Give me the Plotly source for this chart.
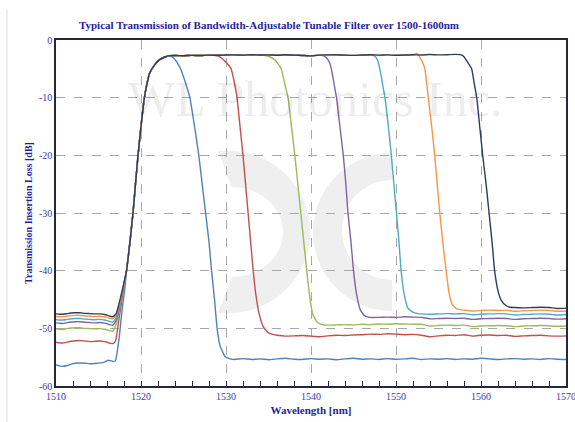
import numpy as np
import plotly.graph_objects as go

# ---------------- data ----------------
LEFT_X = [1510.0, 1510.4, 1510.8, 1511.3, 1511.8, 1512.3, 1512.8, 1513.4,
          1514.0, 1514.6, 1515.2, 1515.7, 1516.1, 1516.4, 1516.7]

# common rising edge (all curves overlap here)
RISE_X = [1518.3, 1518.7, 1519.06, 1519.35, 1519.65, 1520.0, 1520.4, 1520.7,
          1521.0, 1521.6, 1522.2, 1522.8, 1523.2]
RISE_Y = [-40, -35, -30, -25, -20, -15, -10, -7.6, -5.8, -4.3, -3.4, -2.95, -2.75]

# common flat pass-band top
TOP_X = list(range(1524, 1558))
TOP_Y = [-2.7, -2.72, -2.66, -2.7, -2.62, -2.65, -2.6, -2.58, -2.62, -2.55,
         -2.6, -2.58, -2.64, -2.57, -2.62, -2.68, -2.75, -2.62, -2.58, -2.55,
         -2.62, -2.66, -2.6, -2.55, -2.62, -2.58, -2.65, -2.6, -2.55, -2.6,
         -2.52, -2.58, -2.55, -2.5]

# --- blue ---
BLUE_LEFT_Y = [-56.35, -56.5, -56.6, -56.45, -56.2, -56.05, -56.0, -56.05,
               -56.15, -56.1, -56.0, -55.85, -55.55, -55.6, -55.75]
BLUE_JOIN_X = [1517.0, 1517.4, 1517.8, 1518.1]
BLUE_JOIN_Y = [-55.6, -52.0, -46.5, -43.0]
BLUE_TOP_END = 1523.5
BLUE_FALL_X = [1523.6, 1524.0, 1524.3, 1524.65, 1525.25, 1525.75, 1526.3, 1526.8,
               1527.2, 1527.6, 1528.0, 1528.3, 1528.65, 1528.95, 1529.3, 1529.85, 1530.5]
BLUE_FALL_Y = [-2.9, -3.4, -4.0, -5.0, -7.5, -10, -15, -20, -25, -30, -35, -40,
               -45, -50, -53, -54.8, -55.3]
BLUE_RIGHT_START = 1531
BLUE_RIGHT_Y = [-55.4, -55.25, -55.4, -55.3, -55.45, -55.3, -55.2, -55.35, -55.4,
                -55.25, -55.35, -55.3, -55.45, -55.3, -55.2, -55.35, -55.3, -55.4,
                -55.25, -55.35, -55.3, -55.2, -55.4, -55.3, -55.35, -55.25, -55.4,
                -55.3, -55.35, -55.2, -55.3, -55.4, -55.3, -55.25, -55.35, -55.3,
                -55.4, -55.25, -55.35, -55.4]

# --- red ---
RED_LEFT_Y = [-52.4, -52.5, -52.55, -52.4, -52.25, -52.15, -52.1, -52.2, -52.3,
              -52.25, -52.2, -52.3, -52.45, -52.6, -52.65]
RED_JOIN_X = [1517.0, 1517.4, 1517.8]
RED_JOIN_Y = [-52.2, -48.5, -44.5]
RED_TOP_END = 1528.5
RED_FALL_X = [1528.6, 1529.1, 1529.6, 1530.1, 1530.6, 1531.0, 1531.3, 1531.65,
              1532.0, 1532.3, 1532.6, 1532.9, 1533.2, 1533.5, 1533.9, 1534.4,
              1535.0, 1535.6]
RED_FALL_Y = [-2.65, -2.8, -3.3, -4.0, -5.0, -7.5, -10, -15, -20, -25, -30, -35,
              -40, -44, -47.5, -49.8, -50.8, -51.1]
RED_RIGHT_START = 1536
RED_RIGHT_Y = [-51.2, -51.35, -51.3, -51.25, -51.35, -51.45, -51.3, -51.2, -51.25,
               -51.15, -51.1, -51.0, -51.05, -50.95, -51.0, -51.1, -51.05, -51.2,
               -51.45, -51.3, -51.2, -51.25, -51.1, -51.35, -51.2, -51.15, -51.25,
               -51.2, -51.4, -51.3, -51.25, -51.2, -51.3, -51.35, -51.3]

# --- green ---
GREEN_LEFT_Y = [-50.1, -50.15, -50.2, -50.05, -49.95, -49.9, -49.9, -50.0, -50.05,
                -50.1, -50.05, -50.15, -50.3, -50.45, -50.5]
GREEN_JOIN_X = [1517.0, 1517.4, 1517.75]
GREEN_JOIN_Y = [-49.6, -47.3, -44.2]
GREEN_TOP_END = 1534.5
GREEN_FALL_X = [1534.6, 1535.2, 1535.8, 1536.2, 1536.5, 1536.9, 1537.3, 1537.7,
                1538.1, 1538.45, 1538.8, 1539.15, 1539.5, 1539.8, 1540.2, 1540.7,
                1541.3]
GREEN_FALL_Y = [-2.7, -2.95, -3.5, -4.3, -5.0, -7.5, -10, -15, -20, -25, -30, -35,
                -40, -44, -47.5, -48.9, -49.35]
GREEN_RIGHT_START = 1542
GREEN_RIGHT_Y = [-49.45, -49.4, -49.35, -49.4, -49.3, -49.35, -49.25, -49.3, -49.2,
                 -49.25, -49.3, -49.3, -49.6, -49.5, -49.45, -49.5, -49.45, -49.7,
                 -49.6, -49.55, -49.5, -49.55, -49.7, -49.6, -49.55, -49.5, -49.55,
                 -49.65, -49.6]

# --- purple ---
PURPLE_LEFT_Y = [-49.05, -49.1, -49.15, -49.0, -48.9, -48.85, -48.85, -48.95,
                 -49.0, -49.05, -49.0, -49.1, -49.25, -49.4, -49.45]
PURPLE_JOIN_X = [1517.05, 1517.4, 1517.75]
PURPLE_JOIN_Y = [-48.7, -46.8, -44.1]
PURPLE_TOP_END = 1541.4
PURPLE_FALL_X = [1541.5, 1541.9, 1542.2, 1542.4, 1542.7, 1543.0, 1543.4, 1543.8,
                 1544.1, 1544.35, 1544.7, 1545.0, 1545.35, 1545.8, 1546.3, 1546.9]
PURPLE_FALL_Y = [-2.75, -3.2, -4.0, -5.0, -7.5, -10, -15, -20, -25, -30, -35, -40,
                 -44, -46.8, -47.8, -48.1]
PURPLE_RIGHT_START = 1548
PURPLE_RIGHT_Y = [-48.1, -48.05, -48.1, -48.0, -48.05, -48.1, -48.35, -48.3, -48.25,
                  -48.3, -48.25, -48.45, -48.35, -48.3, -48.25, -48.3, -48.45, -48.35,
                  -48.3, -48.25, -48.3, -48.4, -48.35]

# --- cyan ---
CYAN_LEFT_Y = [-48.5, -48.55, -48.55, -48.45, -48.35, -48.3, -48.3, -48.4, -48.45,
               -48.5, -48.45, -48.55, -48.7, -48.85, -48.9]
CYAN_JOIN_X = [1517.05, 1517.4, 1517.75]
CYAN_JOIN_Y = [-48.2, -46.4, -44.0]
CYAN_TOP_END = 1547.4
CYAN_FALL_X = [1547.5, 1547.8, 1548.1, 1548.4, 1548.7, 1549.1, 1549.45, 1549.75,
               1550.05, 1550.35, 1550.6, 1550.95, 1551.4, 1552.0, 1552.6]
CYAN_FALL_Y = [-2.8, -3.4, -5.0, -7.5, -10, -15, -20, -25, -30, -35, -40, -44,
               -46.5, -47.2, -47.45]
CYAN_RIGHT_START = 1553
CYAN_RIGHT_Y = [-47.5, -47.55, -47.5, -47.45, -47.5, -47.45, -47.65, -47.55, -47.5,
                -47.45, -47.5, -47.7, -47.6, -47.55, -47.5, -47.55, -47.7, -47.6]

# --- orange ---
ORANGE_LEFT_Y = [-47.95, -48.0, -48.0, -47.9, -47.8, -47.75, -47.75, -47.85, -47.9,
                 -47.95, -47.9, -48.0, -48.15, -48.3, -48.35]
ORANGE_JOIN_X = [1517.05, 1517.4, 1517.75]
ORANGE_JOIN_Y = [-47.7, -46.1, -44.0]
ORANGE_TOP_END = 1552.4
ORANGE_FALL_X = [1552.5, 1552.8, 1553.1, 1553.4, 1553.6, 1553.8, 1554.2, 1554.55,
                 1554.85, 1555.15, 1555.5, 1555.9, 1556.2, 1556.6, 1557.1, 1557.7]
ORANGE_FALL_Y = [-2.35, -3.0, -3.8, -5.0, -7.5, -10, -15, -20, -25, -30, -35, -40,
                 -43.5, -45.8, -46.6, -46.8]
ORANGE_RIGHT_START = 1558
ORANGE_RIGHT_Y = [-46.85, -47.0, -46.9, -46.85, -46.9, -46.85, -47.05, -46.95,
                  -46.9, -46.85, -46.9, -47.05, -47.0]

# --- dark navy ---
DARK_LEFT_Y = [-47.5, -47.55, -47.55, -47.45, -47.35, -47.3, -47.3, -47.4, -47.45,
               -47.5, -47.5, -47.6, -47.75, -47.9, -48.0]
DARK_JOIN_X = [1517.1, 1517.4, 1517.7]
DARK_JOIN_Y = [-47.4, -45.8, -44.0]
DARK_TOP_END = 1557.5
DARK_FALL_X = [1557.6, 1558.0, 1558.4, 1558.9, 1559.2, 1559.5, 1559.85, 1560.2,
               1560.6, 1560.95, 1561.3, 1561.6, 1562.0, 1562.4, 1562.9, 1563.4]
DARK_FALL_Y = [-2.55, -2.9, -3.8, -5.0, -7.5, -10, -15, -20, -25, -30, -35, -40,
               -43.5, -45.2, -46.0, -46.35]
DARK_RIGHT_START = 1564
DARK_RIGHT_Y = [-46.4, -46.45, -46.4, -46.35, -46.4, -46.55, -46.5]

COLORS = ["#4F81BD", "#C0504D", "#9BBB59", "#8064A2", "#4BACC6", "#F79646", "#2C3E5C"]

X_TICKS = [1510, 1520, 1530, 1540, 1550, 1560, 1570]
Y_TICKS = [0, -10, -20, -30, -40, -50, -60]

TITLE = "Typical Transmission of Bandwidth-Adjustable Tunable Filter over 1500-1600nm"
X_TITLE = "Wavelength [nm]"
Y_TITLE = "Transmission Insertion Loss [dB]"
WATERMARK = "WL Photonics Inc."

# ---------------- assemble curves ----------------
curves = [
    (BLUE_LEFT_Y, BLUE_JOIN_X, BLUE_JOIN_Y, BLUE_TOP_END, BLUE_FALL_X, BLUE_FALL_Y, BLUE_RIGHT_START, BLUE_RIGHT_Y),
    (RED_LEFT_Y, RED_JOIN_X, RED_JOIN_Y, RED_TOP_END, RED_FALL_X, RED_FALL_Y, RED_RIGHT_START, RED_RIGHT_Y),
    (GREEN_LEFT_Y, GREEN_JOIN_X, GREEN_JOIN_Y, GREEN_TOP_END, GREEN_FALL_X, GREEN_FALL_Y, GREEN_RIGHT_START, GREEN_RIGHT_Y),
    (PURPLE_LEFT_Y, PURPLE_JOIN_X, PURPLE_JOIN_Y, PURPLE_TOP_END, PURPLE_FALL_X, PURPLE_FALL_Y, PURPLE_RIGHT_START, PURPLE_RIGHT_Y),
    (CYAN_LEFT_Y, CYAN_JOIN_X, CYAN_JOIN_Y, CYAN_TOP_END, CYAN_FALL_X, CYAN_FALL_Y, CYAN_RIGHT_START, CYAN_RIGHT_Y),
    (ORANGE_LEFT_Y, ORANGE_JOIN_X, ORANGE_JOIN_Y, ORANGE_TOP_END, ORANGE_FALL_X, ORANGE_FALL_Y, ORANGE_RIGHT_START, ORANGE_RIGHT_Y),
    (DARK_LEFT_Y, DARK_JOIN_X, DARK_JOIN_Y, DARK_TOP_END, DARK_FALL_X, DARK_FALL_Y, DARK_RIGHT_START, DARK_RIGHT_Y),
]

fig = go.Figure()
for (ly, jx, jy, top_end, fx, fy, rstart, ry), col in zip(curves, COLORS):
    top_pts = [(x, y) for x, y in zip(TOP_X, TOP_Y) if x < top_end]
    rx = list(range(rstart, rstart + len(ry)))
    xs = LEFT_X + jx + RISE_X + [p[0] for p in top_pts] + fx + rx
    ys = ly + jy + RISE_Y + [p[1] for p in top_pts] + fy + ry
    fig.add_trace(go.Scatter(x=xs, y=ys, mode="lines",
                             line=dict(color=col, width=1.4, shape="spline", smoothing=0.4),
                             hoverinfo="skip", showlegend=False))

# ---------------- layout geometry ----------------
W, H = 575, 422
ML, MR, MT, MB = 56, 9, 40, 36
PW, PH = W - ML - MR, H - MT - MB


def px2paper(px, py):
    return (px - ML) / PW, 1 - (py - MT) / PH


def path_from(points):
    s = ""
    for i, (px, py) in enumerate(points):
        x, y = px2paper(px, py)
        s += ("M" if i == 0 else "L") + f"{x:.4f},{y:.4f}"
    return s + "Z"


def arc(cx, cy, rx, ry, a0, a1, n=40):
    t = np.linspace(np.radians(a0), np.radians(a1), n)
    return [(cx + rx * np.cos(a), cy + ry * np.sin(a)) for a in t]


# watermark logo "D" and "C" (light gray decoration)
d_outer = [(218, 151)] + arc(229, 232, 81, 81, -90, 90) + [(218, 313)]
d_inner = [(232, 277)] + arc(232, 232, 51, 45, 90, -90) + [(232, 187)]
c_shape = arc(392, 232, 79, 79, -90, -270) + arc(392, 230, 50, 50, -270, -90)
shapes = [
    dict(type="path", xref="paper", yref="paper", path=path_from(d_outer + d_inner),
         fillcolor="#efefef", line=dict(width=0), layer="below"),
    dict(type="path", xref="paper", yref="paper", path=path_from(c_shape),
         fillcolor="#efefef", line=dict(width=0), layer="below"),
]
x0, _ = px2paper(7, 0)
_, y_top = px2paper(0, 10)
_, y_bot = px2paper(0, 422)
shapes.append(dict(type="line", xref="paper", yref="paper", x0=x0, x1=x0,
                   y0=y_bot, y1=y_top, line=dict(color="#dddddd", width=1)))

SERIF = "Liberation Serif, Times New Roman, serif"
BLUE_TXT = "#1f1f9c"
TICK_TXT = "#3b3ba6"
AXIS_COL = "#262640"

tx, _ = px2paper(269, 0)
wx, wy = px2paper(315, 99)

fig.update_layout(
    width=W, height=H,
    margin=dict(l=ML, r=MR, t=MT, b=MB, pad=0),
    paper_bgcolor="white", plot_bgcolor="white",
    showlegend=False,
    shapes=shapes,
    title=dict(text=f"<b>{TITLE}</b>", x=tx, xref="paper", xanchor="center",
               y=1 - 25 / H, yref="container", yanchor="middle",
               font=dict(family=SERIF, size=11, color=BLUE_TXT)),
    annotations=[
        dict(text=WATERMARK, x=wx, y=wy, xref="paper", yref="paper",
             xanchor="center", yanchor="middle",
             showarrow=False, font=dict(family=SERIF, size=50, color="rgba(0,0,0,0.07)")),
    ],
    xaxis=dict(range=[1510, 1570], tickvals=X_TICKS, ticktext=[str(v) for v in X_TICKS],
               automargin=False, ticklabeloverflow="allow",
               ticks="inside", ticklen=5, tickcolor=AXIS_COL,
               minor=dict(ticks="inside", dtick=2, ticklen=5, tickcolor=AXIS_COL, showgrid=False),
               showgrid=True, gridcolor="#a8a8a8", griddash="dash", gridwidth=1,
               showline=True, linecolor=AXIS_COL, linewidth=1.5, mirror=True,
               zeroline=False,
               tickfont=dict(family=SERIF, size=10, color=TICK_TXT),
               title=dict(text=f"<b>{X_TITLE}</b>", standoff=6,
                          font=dict(family=SERIF, size=11, color=BLUE_TXT))),
    yaxis=dict(range=[-60, 0], tickvals=Y_TICKS, ticktext=[str(v) for v in Y_TICKS],
               automargin=False, ticklabeloverflow="allow",
               ticks="", showgrid=True, gridcolor="#a8a8a8", griddash="dash", gridwidth=1,
               showline=True, linecolor=AXIS_COL, linewidth=1.5, mirror=True,
               zeroline=False,
               tickfont=dict(family=SERIF, size=10, color=TICK_TXT),
               title=dict(text=f"<b>{Y_TITLE}</b>", standoff=4,
                          font=dict(family=SERIF, size=10, color=BLUE_TXT))),
)

fig.write_html("out.html", config={"displayModeBar": False},
               post_script="document.body.style.margin='0';document.body.style.padding='0';")
